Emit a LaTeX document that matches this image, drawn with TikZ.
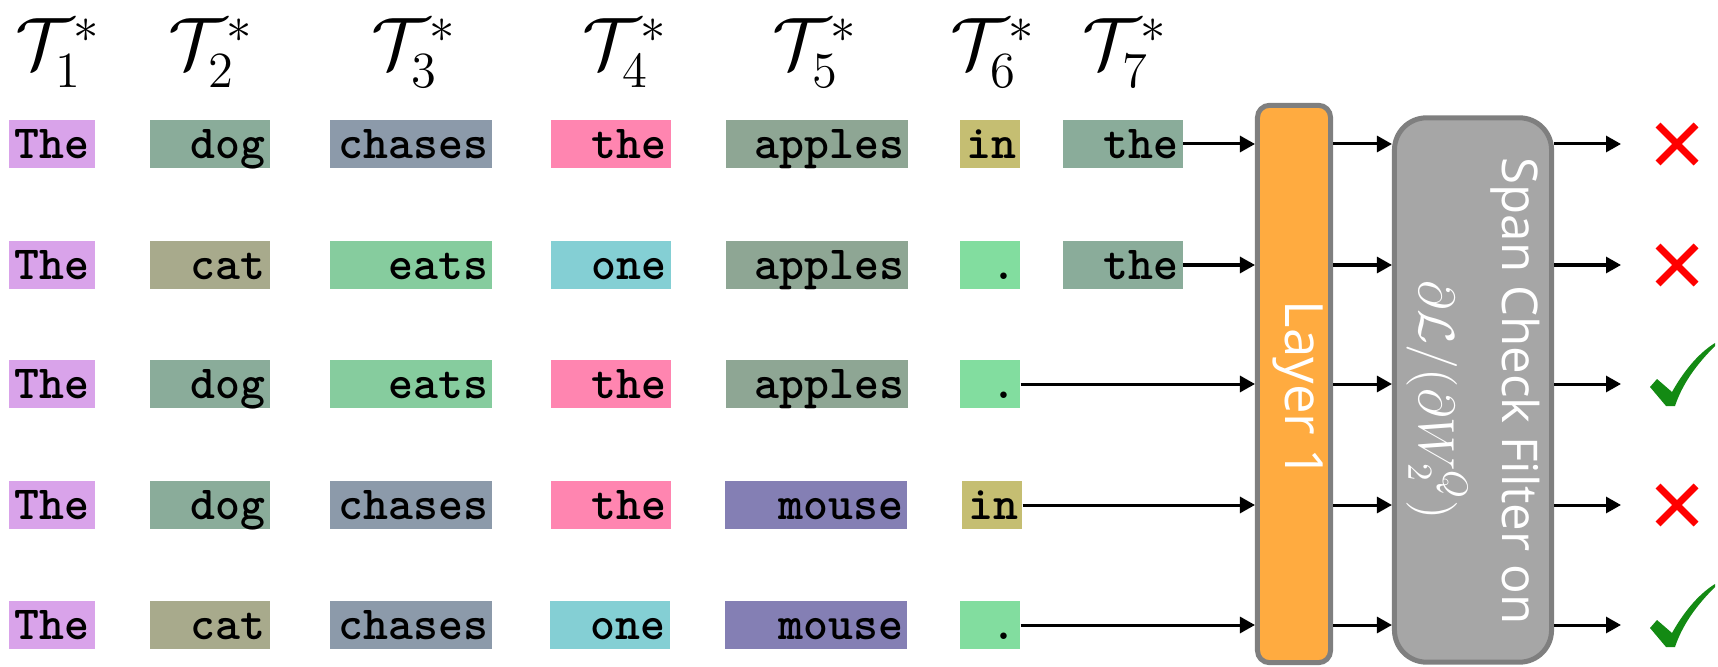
\documentclass[tikz,border=0pt]{standalone}
\usepackage{fontspec}
\setsansfont{Open Sans}
\usetikzlibrary{arrows.meta}
\definecolor{tokThe}{HTML}{D9A3EA}
\definecolor{tokdog}{HTML}{8AAC9A}
\definecolor{tokchases}{HTML}{8C9AAA}
\definecolor{tokthe}{HTML}{FF85B0}
\definecolor{tokapples}{HTML}{8EA694}
\definecolor{tokin}{HTML}{C5BE72}
\definecolor{tokcat}{HTML}{A8AA8C}
\definecolor{tokeats}{HTML}{86CC9E}
\definecolor{tokone}{HTML}{84CFD4}
\definecolor{tokdot}{HTML}{82DD9F}
\definecolor{tokmouse}{HTML}{847FB4}
\definecolor{layerfill}{HTML}{FFAB40}
\definecolor{spanfill}{HTML}{A6A6A6}
\definecolor{boxline}{HTML}{7F7F7F}
\definecolor{nored}{HTML}{FF0000}
\definecolor{okgreen}{HTML}{138A13}

\tikzset{
  nomark/.pic={\draw[nored, line width=0.07cm] (-19,-19) -- (19,19) (-19,19) -- (19,-19);},
  okmark/.pic={\fill[okgreen] (-32,3) -- (-25,-5) -- (-10,8) .. controls (0,-10) and (15,-30) .. (33,-41) -- (33,-38) .. controls (20,-25) and (2,-5) .. (-7,22) -- (-16,22) -- cycle;},
}

\begin{document}
\begin{tikzpicture}[x=0.01cm, y=-0.01cm,
    tok/.style={inner xsep=0.04cm, inner ysep=0, text height=0.38cm, text depth=0.09cm,
      align=right, font=\fontsize{13.5}{14}\selectfont\ttfamily\bfseries},
    c1/.style={text width=0.77cm, align=center},
    c2/.style={text width=1.11cm},
    c3/.style={text width=1.54cm},
    c4/.style={text width=1.11cm},
    c5/.style={text width=1.74cm},
    c6/.style={text width=0.52cm},
    c7/.style={text width=1.11cm},
    hdr/.style={anchor=base, inner sep=0, font=\fontsize{19.5}{22}\selectfont},
    layerbox/.style={draw=boxline, line width=0.05cm, fill=layerfill, rounded corners=0.12cm,
      minimum width=0.73cm, minimum height=5.57cm},
    spanbox/.style={draw=boxline, line width=0.05cm, fill=spanfill, rounded corners=0.32cm,
      minimum width=1.57cm, minimum height=5.44cm},
    boxtext/.style={text=white, rotate=-90, inner sep=0},
    arr/.style={-{Triangle[length=0.15cm, width=0.16cm]}, line width=0.03cm}]

  \useasboundingbox (0,0) rectangle (1718,667);

  % column headers
  \node[hdr] (h1) at (58,69) {$\mathcal{T}_1^*$};
  \node[hdr] (h2) at (211,69) {$\mathcal{T}_2^*$};
  \node[hdr] (h3) at (414,69) {$\mathcal{T}_3^*$};
  \node[hdr] (h4) at (625,69) {$\mathcal{T}_4^*$};
  \node[hdr] (h5) at (815,69) {$\mathcal{T}_5^*$};
  \node[hdr] (h6) at (993,69) {$\mathcal{T}_6^*$};
  \node[hdr] (h7) at (1125,69) {$\mathcal{T}_7^*$};

  % row 1
  \node[tok, c1, fill=tokThe] (w11) at (52,144) {The};
  \node[tok, c2, fill=tokdog] (w12) at (210,144) {dog};
  \node[tok, c3, fill=tokchases] (w13) at (411,144) {chases};
  \node[tok, c4, fill=tokthe] (w14) at (611,144) {the};
  \node[tok, c5, fill=tokapples] (w15) at (817,144) {apples};
  \node[tok, c6, fill=tokin] (w16) at (990,144) {in};
  \node[tok, c7, fill=tokdog] (w17) at (1123,144) {the};

  % row 2
  \node[tok, c1, fill=tokThe] (w21) at (52,265) {The};
  \node[tok, c2, fill=tokcat] (w22) at (210,265) {cat};
  \node[tok, c3, fill=tokeats] (w23) at (411,265) {eats};
  \node[tok, c4, fill=tokone] (w24) at (611,265) {one};
  \node[tok, c5, fill=tokapples] (w25) at (817,265) {apples};
  \node[tok, c6, fill=tokdot] (w26) at (990,265) {.};
  \node[tok, c7, fill=tokdog] (w27) at (1123,265) {the};

  % row 3
  \node[tok, c1, fill=tokThe] (w31) at (52,384) {The};
  \node[tok, c2, fill=tokdog] (w32) at (210,384) {dog};
  \node[tok, c3, fill=tokeats] (w33) at (411,384) {eats};
  \node[tok, c4, fill=tokthe] (w34) at (611,384) {the};
  \node[tok, c5, fill=tokapples] (w35) at (817,384) {apples};
  \node[tok, c6, fill=tokdot] (w36) at (990,384) {.};

  % row 4
  \node[tok, c1, fill=tokThe] (w41) at (52,505) {The};
  \node[tok, c2, fill=tokdog] (w42) at (210,505) {dog};
  \node[tok, c3, fill=tokchases] (w43) at (411,505) {chases};
  \node[tok, c4, fill=tokthe] (w44) at (611,505) {the};
  \node[tok, c5, fill=tokmouse] (w45) at (816,505) {mouse};
  \node[tok, c6, fill=tokin] (w46) at (992,505) {in};

  % row 5
  \node[tok, c1, fill=tokThe] (w51) at (52,625) {The};
  \node[tok, c2, fill=tokcat] (w52) at (210,625) {cat};
  \node[tok, c3, fill=tokchases] (w53) at (411,625) {chases};
  \node[tok, c4, fill=tokone] (w54) at (610,625) {one};
  \node[tok, c5, fill=tokmouse] (w55) at (816,625) {mouse};
  \node[tok, c6, fill=tokdot] (w56) at (990,625) {.};

  % layer and filter
  \node[layerbox] (layer) at (1294,384) {};
  \node[boxtext, font=\sffamily\fontsize{15}{18}\selectfont] (layertxt) at (1298,390) {Layer 1};
  \node[spanbox] (span) at (1473,390) {};
  \node[boxtext, font=\sffamily\fontsize{14}{17}\selectfont] (spantxt) at (1515,391) {Span Check Filter on};
  \node[boxtext, font=\fontsize{14.5}{17}\selectfont] (spanmath) at (1437,400) {$\partial\mathcal{L}/(\partial W_2^{Q})$};

  % outputs
  \coordinate (o1) at (1621,144);
  \coordinate (o2) at (1621,265);
  \coordinate (o3) at (1621,384);
  \coordinate (o4) at (1621,505);
  \coordinate (o5) at (1621,625);
  \pic at (1677,144) {nomark};
  \pic at (1677,265) {nomark};
  \pic at (1682,384) {okmark};
  \pic at (1677,505) {nomark};
  \pic at (1682,625) {okmark};

  \draw[arr] (w17.east) -- (layer.west |- w17.east);
  \draw[arr] (w27.east) -- (layer.west |- w27.east);
  \draw[arr] (w36.east) -- (layer.west |- w36.east);
  \draw[arr] (w46.east) -- (layer.west |- w46.east);
  \draw[arr] (w56.east) -- (layer.west |- w56.east);
  \foreach \r in {1,...,5} {
    \draw[arr] (layer.east |- o\r) -- (span.west |- o\r);
    \draw[arr] (span.east |- o\r) -- (o\r);
  }
\end{tikzpicture}
\end{document}
